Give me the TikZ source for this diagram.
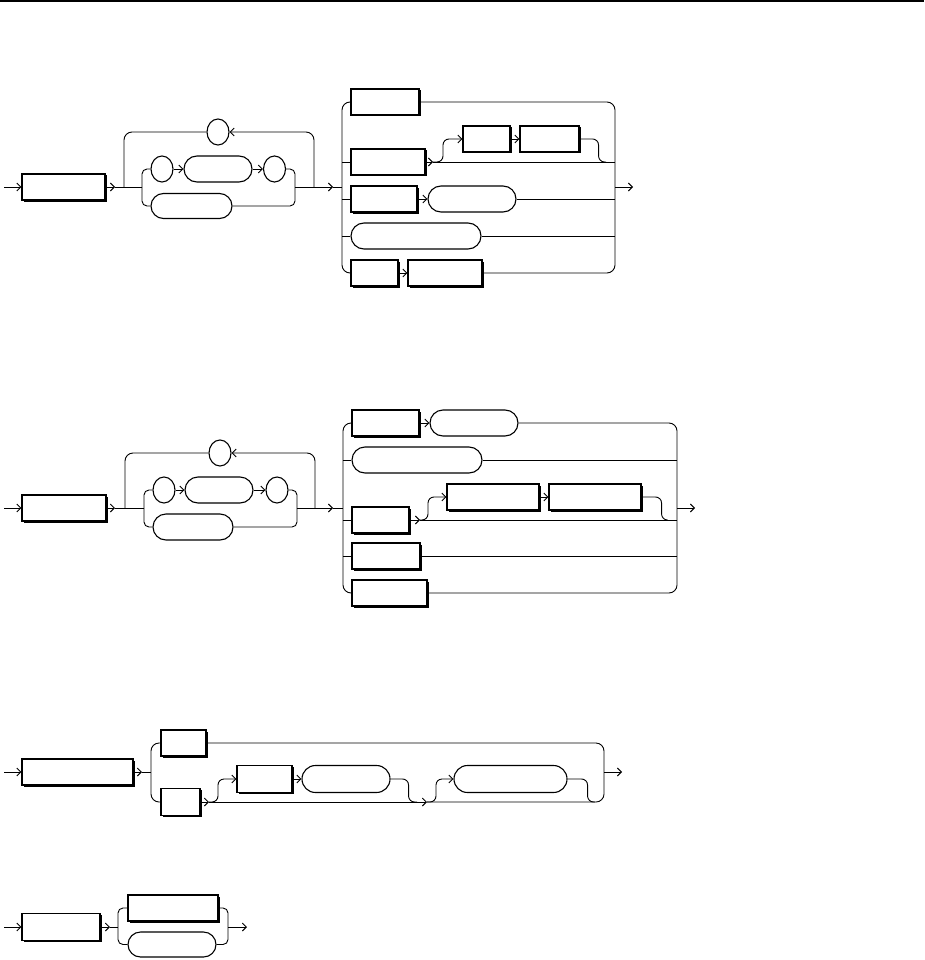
\documentclass[tikz,border=0pt]{standalone}
\usetikzlibrary{arrows.meta,shapes.misc,shapes.geometric,shadows}
\begin{document}
\begin{tikzpicture}[x=1pt,y=-1pt,line width=0.9pt,
  tbox/.style={draw,fill=white,line width=1.1pt,inner sep=0pt,minimum height=26pt,
    drop shadow={shadow xshift=1.5pt,shadow yshift=-1.5pt,opacity=1,fill=black}},
  term/.style={draw,rounded rectangle,line width=1.1pt,inner sep=0pt,minimum height=26pt},
  circ/.style={draw,ellipse,line width=1.1pt,inner sep=0pt,minimum width=22pt,minimum height=26pt},
  arr/.style={-{Straight Barb[length=4pt,width=8pt]}},
  rc/.style={rounded corners=8pt},
  rs/.style={rounded corners=5pt},
  sc/.style={rounded corners=6pt}]
\useasboundingbox (0,0) rectangle (924,960);
\draw[line width=1.5pt] (0,1) -- (924,1);

% ================= Diagram 1 =================
\coordinate (s1) at (4,187);
\node[tbox,minimum width=83pt] (a1) at (63.5,187) {};
\coordinate (a1j) at (115,187);
\coordinate (l1L) at (124,187);
\coordinate (l1i) at (142,187);
\coordinate (l1o) at (295,187);
\coordinate (l1R) at (314,187);
\coordinate (a1x) at (333,187);
\coordinate (b1v) at (342,187);
\node[circ] (c11) at (162,169) {};
\node[term,minimum width=68pt] (t11) at (218,169) {};
\node[circ] (c12) at (274.5,169) {};
\node[term,minimum width=81pt,minimum height=25pt] (t12) at (191.5,206) {};
\node[circ] (c13) at (218,132) {};
\draw[arr] (s1) -- (a1.west);
\draw[arr] (a1.east) -- (a1j);
\draw (a1j) -- (l1i);
\draw[rs] (l1i) |- (c11.west);
\draw[rs] (l1i) |- (t12.west);
\draw[arr] (c11.east) -- (t11.west);
\draw[arr] (t11.east) -- (c12.west);
\draw[rs] (c12.east) -| (l1o);
\draw[rs] (t12.east) -| (l1o);
\draw[arr] (l1o) -- (a1x);
\draw (a1x) -- (b1v);
\draw[arr,rc] (l1R) |- (c13.east);
\draw[rc] (c13.west) -| (l1L);

\node[tbox,minimum width=68pt] (b11) at (385,102) {};
\node[tbox,minimum width=74pt] (b12) at (388,162) {};
\node[tbox,minimum width=47pt] (b12u) at (486.5,139) {};
\node[tbox,minimum width=59pt] (b12v) at (549.5,139) {};
\node[tbox,minimum width=66pt] (b13) at (384,199) {};
\node[term,minimum width=88pt] (t13) at (472,199) {};
\node[term,minimum width=130pt] (t14) at (416,236) {};
\node[tbox,minimum width=47pt] (b15) at (374.5,273) {};
\node[tbox,minimum width=74pt] (b15b) at (445,273) {};
\coordinate (r1) at (615,187);
\coordinate (e1) at (633,187);
\coordinate (o12a) at (433,162);
\coordinate (o12b) at (606,162);
\draw[rc] (b11.west) -| (b1v) |- (b15.west);
\draw (b1v |- b12.west) -- (b12.west);
\draw (b1v |- b13.west) -- (b13.west);
\draw (b1v |- t14.west) -- (t14.west);
\draw[rc] (b11.east) -| (r1) |- (b15b.east);
\draw[arr] (r1) -- (e1);
\draw[arr] (b12.east) -- (o12a);
\draw (o12a) -- (r1 |- o12a);
\draw[arr,sc] (o12a) -- ++(10,0) |- (b12u.west);
\draw[arr] (b12u.east) -- (b12v.west);
\draw[sc] (b12v.east) -- ++(19,0) |- (o12b);
\draw[arr] (b13.east) -- (t13.west);
\draw (t13.east) -- (r1 |- t13.east);
\draw (t14.east) -- (r1 |- t14.east);
\draw[arr] (b15.east) -- (b15b.west);

% ================= Diagram 2 =================
\coordinate (s2) at (4,508);
\node[tbox,minimum width=84pt] (a2) at (64,508) {};
\coordinate (a2j) at (115,508);
\coordinate (l2L) at (125,508);
\coordinate (l2i) at (144,508);
\coordinate (l2o) at (297,508);
\coordinate (l2R) at (315,508);
\coordinate (a2x) at (333,508);
\coordinate (b2v) at (343,508);
\node[circ] (c21) at (164,490) {};
\node[term,minimum width=68pt] (t21) at (219,490) {};
\node[circ] (c22) at (277,490) {};
\node[term,minimum width=80pt] (t22) at (193,527) {};
\node[circ] (c23) at (220,453) {};
\draw[arr] (s2) -- (a2.west);
\draw[arr] (a2.east) -- (a2j);
\draw (a2j) -- (l2i);
\draw[rs] (l2i) |- (c21.west);
\draw[rs] (l2i) |- (t22.west);
\draw[arr] (c21.east) -- (t21.west);
\draw[arr] (t21.east) -- (c22.west);
\draw[rs] (c22.east) -| (l2o);
\draw[rs] (t22.east) -| (l2o);
\draw[arr] (l2o) -- (a2x);
\draw (a2x) -- (b2v);
\draw[arr,rc] (l2R) |- (c23.east);
\draw[rc] (c23.west) -| (l2L);

\node[tbox,minimum width=67pt] (b21) at (385.5,423) {};
\node[term,minimum width=88pt] (t21b) at (474,423) {};
\node[term,minimum width=130pt] (t22b) at (417,460) {};
\node[tbox,minimum width=57pt] (b23) at (380.5,520) {};
\node[tbox,minimum width=92pt] (b23u) at (493,497) {};
\node[tbox,minimum width=92pt] (b23v) at (595,497) {};
\node[tbox,minimum width=68pt] (b24) at (386,556) {};
\node[tbox,minimum width=75pt] (b25) at (389.5,593) {};
\coordinate (r2) at (677,508);
\coordinate (e2) at (695,508);
\coordinate (o23a) at (420,520);
\coordinate (o23b) at (667,520);
\draw[rc] (b21.west) -| (b2v) |- (b25.west);
\draw (b2v |- t22b.west) -- (t22b.west);
\draw (b2v |- b23.west) -- (b23.west);
\draw (b2v |- b24.west) -- (b24.west);
\draw[arr] (b21.east) -- (t21b.west);
\draw[rc] (t21b.east) -| (r2) |- (b25.east);
\draw[arr] (r2) -- (e2);
\draw (t22b.east) -- (r2 |- t22b.east);
\draw[arr] (b23.east) -- (o23a);
\draw (o23a) -- (r2 |- o23a);
\draw[arr,sc] (o23a) -- ++(8,0) |- (b23u.west);
\draw[arr] (b23u.east) -- (b23v.west);
\draw[sc] (b23v.east) -- ++(20,0) |- (o23b);
\draw (b24.east) -- (r2 |- b24.east);

% ================= Diagram 3 =================
\coordinate (s3) at (4,772);
\node[tbox,minimum width=111pt] (a3) at (77.5,772) {};
\coordinate (a3j) at (142,772);
\coordinate (l3) at (151,772);
\node[tbox,minimum width=45pt] (b31) at (183.5,743) {};
\node[tbox,minimum width=39pt,minimum height=27pt] (b32) at (180.5,802) {};
\coordinate (o31) at (209,802);
\node[tbox,minimum width=55pt,minimum height=27pt] (b33) at (264.5,779) {};
\node[term,minimum width=88pt,minimum height=27pt] (t33) at (346,779) {};
\coordinate (o32) at (427,802);
\coordinate (o32m) at (417,802);
\node[term,minimum width=113pt,minimum height=27pt] (t34) at (510.5,779) {};
\coordinate (o33) at (595,802);
\coordinate (r3) at (604,772);
\coordinate (e3) at (622,772);
\draw[arr] (s3) -- (a3.west);
\draw[arr] (a3.east) -- (a3j);
\draw (a3j) -- (l3);
\draw[rc] (b31.west) -| (l3) |- (b32.west);
\draw[rc] (b31.east) -| (r3) |- (o32);
\draw[arr] (r3) -- (e3);
\draw[arr] (b32.east) -- (o31);
\draw[arr] (o31) -- (o32);
\draw[arr,sc] (o31) -- ++(9,0) |- (b33.west);
\draw[arr] (b33.east) -- (t33.west);
\draw[sc] (t33.east) -- ++(18,0) |- (o32m);
\draw[arr,sc] (o32) -- ++(9,0) |- (t34.west);
\draw[sc] (t34.east) -- ++(20,0) |- (o33);

% ================= Diagram 4 =================
\coordinate (s4) at (4,927);
\node[tbox,minimum width=78pt,minimum height=27pt] (a4) at (61,927) {};
\coordinate (a4j) at (110,927);
\coordinate (l4) at (118,927);
\node[tbox,minimum width=90pt] (b41) at (173,908) {};
\node[term,minimum width=88pt,minimum height=25pt] (t42) at (172,944.5) {};
\coordinate (r4) at (228,927);
\coordinate (e4) at (247,927);
\draw[arr] (s4) -- (a4.west);
\draw[arr] (a4.east) -- (a4j);
\draw (a4j) -- (l4);
\draw[rs] (b41.west) -| (l4) |- (t42.west);
\draw[rs] (b41.east) -| (r4) |- (t42.east);
\draw[arr] (r4) -- (e4);
\end{tikzpicture}
\end{document}
